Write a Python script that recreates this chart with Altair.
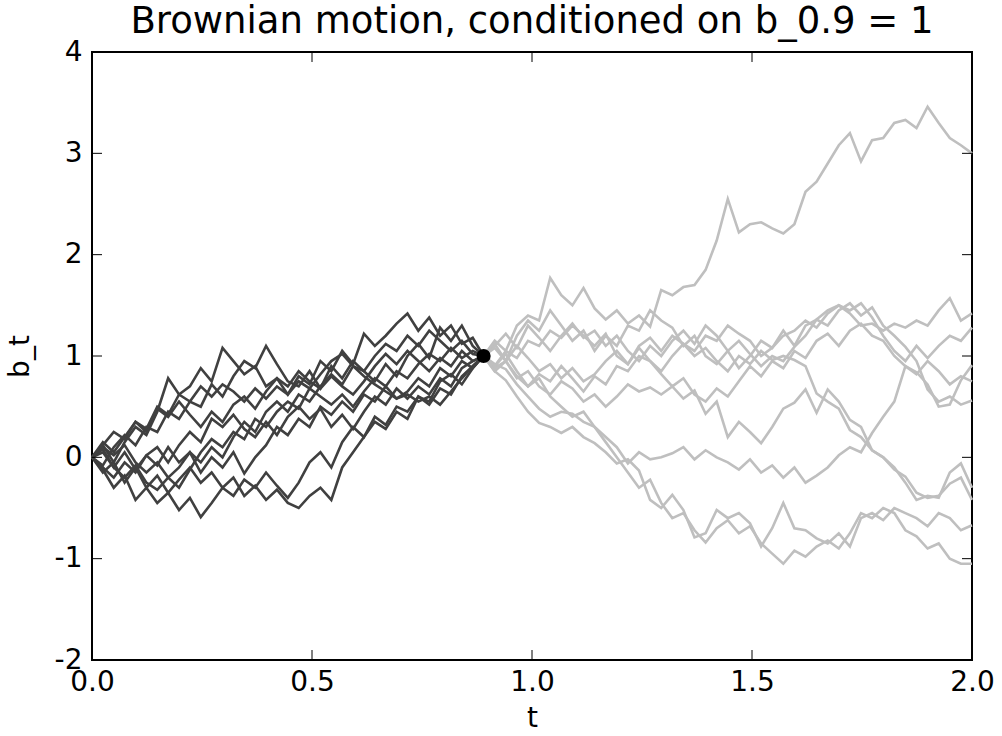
import altair as alt
import numpy as np
import pandas as pd

T_COND = 0.89
B_COND = 1.0

# Dark paths: t from 0 to 0.89
dark_paths = [
    [0, 0.12, -0.05, 0.15, 0.3, 0.22, 0.45, 0.78, 0.62, 0.7, 0.88, 0.75, 1.08, 0.95, 0.82, 0.9, 0.7, 0.78, 0.62, 0.8, 0.72, 0.95, 0.85, 1.05, 0.92, 1.22, 1.1, 1.2, 1.32, 1.42, 1.25, 1.38, 1.2, 1.3, 1.12, 1.18, 1.0],
    [0, -0.08, 0.1, 0.22, 0.12, 0.3, 0.25, 0.45, 0.38, 0.55, 0.5, 0.72, 0.6, 0.8, 0.95, 0.88, 1.1, 0.92, 0.75, 0.7, 0.85, 0.68, 0.9, 0.78, 0.95, 0.85, 0.75, 0.92, 0.8, 1.0, 1.12, 0.98, 1.28, 1.15, 1.3, 1.1, 1.0],
    [0, -0.15, -0.05, -0.25, -0.1, -0.3, -0.18, -0.35, -0.22, -0.1, -0.25, -0.15, -0.3, -0.2, -0.38, -0.28, -0.42, -0.32, -0.45, -0.5, -0.38, -0.3, -0.42, -0.1, 0.05, 0.2, 0.35, 0.28, 0.45, 0.38, 0.6, 0.52, 0.68, 0.62, 0.8, 0.9, 1.0],
    [0, -0.12, -0.3, -0.18, -0.42, -0.3, -0.45, -0.35, -0.52, -0.4, -0.59, -0.45, -0.3, -0.38, -0.22, -0.3, -0.15, -0.28, -0.4, -0.25, -0.05, 0.05, -0.1, 0.15, 0.3, 0.2, 0.4, 0.32, 0.5, 0.45, 0.6, 0.55, 0.75, 0.82, 0.72, 0.88, 1.0],
    [0, 0.08, -0.1, 0.05, -0.12, 0.02, -0.08, 0.1, -0.05, 0.05, -0.15, 0.0, -0.1, 0.05, -0.16, 0.0, 0.12, 0.3, 0.22, 0.38, 0.3, 0.5, 0.42, 0.55, 0.45, 0.62, 0.55, 0.7, 0.58, 0.65, 0.78, 0.7, 0.88, 0.8, 0.95, 0.88, 1.0],
    [0, 0.15, 0.05, 0.2, 0.35, 0.25, 0.48, 0.4, 0.55, 0.42, 0.3, 0.45, 0.35, 0.52, 0.6, 0.48, 0.65, 0.78, 0.7, 0.85, 0.75, 0.68, 0.8, 0.7, 0.62, 0.75, 0.9, 1.02, 0.92, 1.05, 0.95, 0.85, 0.98, 0.9, 1.05, 0.95, 1.0],
    [0, -0.1, -0.2, -0.05, -0.15, 0.02, 0.1, -0.05, 0.12, 0.25, 0.15, 0.38, 0.3, 0.42, 0.28, 0.2, 0.35, 0.22, 0.4, 0.5, 0.38, 0.48, 0.3, 0.42, 0.28, 0.45, 0.6, 0.52, 0.68, 0.58, 0.7, 0.62, 0.78, 0.7, 0.88, 0.95, 1.0],
    [0, 0.1, 0.02, 0.12, -0.05, -0.15, -0.05, -0.2, -0.1, 0.05, -0.05, 0.1, 0.0, 0.2, 0.35, 0.25, 0.45, 0.55, 0.45, 0.62, 0.55, 0.7, 0.82, 0.72, 0.9, 0.85, 1.0, 1.12, 1.05, 1.2, 1.1, 1.25, 1.15, 1.05, 1.15, 1.02, 1.0],
    [0, 0.05, -0.1, -0.2, -0.08, -0.25, -0.32, -0.2, -0.3, -0.12, 0.05, 0.18, 0.1, 0.25, 0.18, 0.38, 0.3, 0.45, 0.55, 0.48, 0.68, 0.6, 0.52, 0.62, 0.5, 0.65, 0.78, 0.7, 0.85, 0.78, 0.92, 1.02, 0.95, 1.08, 0.98, 1.05, 1.0],
    [0, 0.12, 0.25, 0.18, 0.35, 0.28, 0.5, 0.42, 0.62, 0.55, 0.7, 0.6, 0.72, 0.65, 0.55, 0.68, 0.58, 0.7, 0.62, 0.75, 0.68, 0.82, 0.95, 1.02, 0.9, 0.8, 0.72, 0.65, 0.58, 0.62, 0.55, 0.6, 0.52, 0.65, 0.78, 0.9, 1.0],
]

# Light paths: t from 0.89 to 2.0
light_paths = [
    [1.0, 1.15, 1.05, 1.3, 1.4, 1.35, 1.77, 1.6, 1.5, 1.67, 1.47, 1.36, 1.45, 1.32, 1.4, 1.29, 1.65, 1.6, 1.68, 1.7, 1.85, 2.14, 2.55, 2.22, 2.3, 2.32, 2.26, 2.21, 2.3, 2.62, 2.72, 2.9, 3.08, 3.2, 2.92, 3.13, 3.15, 3.3, 3.33, 3.25, 3.46, 3.3, 3.15, 3.08, 3.0],
    [1.0, 1.12, 0.95, 1.2, 1.35, 1.25, 1.45, 1.3, 1.15, 1.25, 1.05, 1.2, 1.1, 1.3, 1.25, 1.45, 1.35, 1.28, 1.1, 1.2, 1.0, 0.92, 1.05, 0.88, 1.0, 1.15, 1.08, 1.25, 1.1, 1.3, 1.36, 1.45, 1.5, 1.42, 1.3, 1.32, 1.25, 1.32, 1.28, 1.35, 1.3, 1.45, 1.57, 1.35, 1.42],
    [1.0, 0.9, 1.05, 0.98, 1.15, 1.1, 1.25, 1.18, 1.3, 1.2, 1.1, 1.22, 1.0, 0.92, 1.08, 0.95, 0.85, 1.0, 1.12, 1.05, 1.2, 1.15, 1.3, 1.22, 1.15, 1.0, 1.08, 1.2, 1.25, 1.35, 1.28, 1.42, 1.5, 1.45, 1.52, 1.38, 1.2, 1.05, 0.95, 1.1, 0.98, 1.1, 1.2, 1.15, 1.28],
    [1.0, 0.92, 0.87, 0.72, 0.6, 0.48, 0.4, 0.45, 0.43, 0.35, 0.3, 0.2, 0.1, -0.06, 0.05, -0.02, 0.0, 0.04, 0.1, -0.02, 0.07, 0.0, -0.05, -0.12, -0.02, -0.15, -0.08, -0.2, -0.1, -0.25, -0.18, -0.1, 0.02, 0.1, 0.05, 0.24, 0.4, 0.55, 0.9, 0.84, 0.72, 0.5, 0.52, 0.76, 0.91],
    [1.0, 1.1, 1.22, 1.08, 1.3, 1.18, 1.05, 1.2, 1.32, 1.18, 1.25, 1.1, 1.2, 1.05, 0.95, 1.1, 1.0, 1.15, 1.25, 1.12, 1.3, 1.2, 1.05, 1.15, 1.02, 0.9, 1.0, 0.95, 1.09, 1.2, 1.36, 1.3, 1.45, 1.52, 1.4, 1.48, 1.3, 1.2, 1.09, 0.95, 0.67, 0.55, 0.6, 0.52, 0.56],
    [1.0, 0.85, 0.95, 0.8, 0.7, 0.82, 0.75, 0.9, 0.78, 0.65, 0.8, 0.72, 0.9, 0.85, 1.0, 0.95, 0.82, 0.7, 0.78, 0.62, 0.55, 0.68, 0.6, 0.75, 0.9, 0.8, 0.95, 0.88, 1.05, 0.98, 1.15, 1.22, 1.1, 1.25, 1.32, 1.2, 1.15, 1.0, 0.9, 0.82, 0.95, 0.85, 0.72, 0.8, 0.75],
    [1.0, 0.88, 0.95, 0.78, 0.85, 0.7, 0.62, 0.75, 0.68, 0.55, 0.62, 0.5, 0.6, 0.72, 0.65, 0.69, 0.62, 0.7, 0.58, 0.66, 0.43, 0.55, 0.2, 0.35, 0.25, 0.14, 0.3, 0.48, 0.54, 0.67, 0.44, 0.67, 0.55, 0.37, 0.3, 0.07, 0.0, -0.1, -0.25, -0.42, -0.38, -0.4, -0.15, -0.06, -0.3],
    [1.0, 1.08, 0.95, 1.1, 0.98, 0.85, 0.92, 0.78, 0.88, 0.75, 0.82, 0.95, 1.05, 0.92, 1.1, 1.18, 1.05, 1.2, 1.12, 1.0, 1.08, 0.95, 0.85, 1.0, 0.92, 1.05, 0.96, 1.0, 0.96, 0.9, 0.63, 0.55, 0.48, 0.27, 0.2, 0.07, 0.0, -0.12, -0.19, -0.35, -0.4, -0.38, -0.26, -0.2, -0.42],
    [1.0, 0.85, 0.76, 0.6, 0.45, 0.34, 0.3, 0.24, 0.3, 0.2, 0.14, 0.05, -0.06, -0.02, -0.13, -0.42, -0.5, -0.37, -0.52, -0.79, -0.75, -0.52, -0.6, -0.55, -0.65, -0.88, -0.7, -0.45, -0.7, -0.72, -0.8, -0.85, -0.75, -0.88, -0.6, -0.55, -0.62, -0.5, -0.55, -0.6, -0.68, -0.55, -0.6, -0.72, -0.67],
    [1.0, 0.9, 1.02, 0.85, 0.7, 0.78, 0.6, 0.5, 0.4, 0.45, 0.3, 0.15, 0.0, -0.15, -0.3, -0.22, -0.45, -0.6, -0.55, -0.72, -0.84, -0.7, -0.62, -0.75, -0.68, -0.85, -0.95, -1.05, -0.92, -0.98, -0.88, -0.82, -0.9, -0.75, -0.55, -0.6, -0.5, -0.55, -0.72, -0.78, -0.9, -0.85, -1.0, -1.05, -1.05],
]

x_ticks = [0.0, 0.5, 1.0, 1.5, 2.0]
y_ticks = [-2, -1, 0, 1, 2, 3, 4]

rows = []
for i, p in enumerate(dark_paths):
    ts = np.linspace(0.0, T_COND, len(p))
    for t, b in zip(ts, p):
        rows.append({"t": float(t), "b": b, "path": f"d{i}", "grp": "dark"})
for i, p in enumerate(light_paths):
    ts = np.linspace(T_COND, 2.0, len(p))
    for t, b in zip(ts, p):
        rows.append({"t": float(t), "b": b, "path": f"l{i}", "grp": "light"})
df = pd.DataFrame(rows)

W, H = 880, 608
FONT = "DejaVu Sans"

xs = alt.Scale(domain=[0, 2], nice=False, zero=False)
ys = alt.Scale(domain=[-2, 4], nice=False, zero=False)

xax = alt.Axis(values=x_ticks, format=".1f", ticks=False, domain=False, grid=False,
               labelFlush=False, labelOverlap=False, labelFontSize=28, labelFont=FONT,
               labelColor="black", labelPadding=8, title="t", titleFontSize=28,
               titleFont=FONT, titleFontWeight="normal", titleColor="black", titlePadding=8)
yax = alt.Axis(values=y_ticks, labelExpr="'' + datum.value", ticks=False, domain=False, grid=False,
               labelOverlap=False, labelFontSize=28, labelFont=FONT, labelColor="black",
               labelPadding=10, title="b_t", titleFontSize=28, titleFont=FONT,
               titleFontWeight="normal", titleColor="black", titlePadding=20)

dark = alt.Chart(df[df.grp == "dark"]).mark_line(color="#404040", strokeWidth=2.6).encode(
    x=alt.X("t:Q", scale=xs, axis=xax),
    y=alt.Y("b:Q", scale=ys, axis=yax),
    detail="path:N",
)
light = alt.Chart(df[df.grp == "light"]).mark_line(color="#bfbfbf", strokeWidth=2.6).encode(
    x=alt.X("t:Q", scale=xs),
    y=alt.Y("b:Q", scale=ys),
    detail="path:N",
)
dot = alt.Chart(pd.DataFrame({"t": [T_COND], "b": [B_COND]})).mark_point(
    filled=True, color="black", size=200, opacity=1).encode(
    x=alt.X("t:Q", scale=xs), y=alt.Y("b:Q", scale=ys))

TL = 10
inner_x = [0.5, 1.0, 1.5]
inner_y = [-1, 0, 1, 2, 3]
tx = pd.DataFrame({"t": inner_x})
ty = pd.DataFrame({"b": inner_y})
tick_bottom = alt.Chart(tx).mark_rule(color="black", strokeWidth=1).encode(
    x=alt.X("t:Q", scale=xs), y=alt.value(H), y2=alt.value(H - TL))
tick_top = alt.Chart(tx).mark_rule(color="black", strokeWidth=1).encode(
    x=alt.X("t:Q", scale=xs), y=alt.value(0), y2=alt.value(TL))
tick_left = alt.Chart(ty).mark_rule(color="black", strokeWidth=1).encode(
    y=alt.Y("b:Q", scale=ys), x=alt.value(0), x2=alt.value(TL))
tick_right = alt.Chart(ty).mark_rule(color="black", strokeWidth=1).encode(
    y=alt.Y("b:Q", scale=ys), x=alt.value(W), x2=alt.value(W - TL))

chart = alt.layer(dark, light, dot, tick_bottom, tick_top, tick_left, tick_right).properties(
    width=W, height=H,
    title=alt.TitleParams("Brownian motion, conditioned on b_0.9 = 1", fontSize=37,
                          font=FONT, fontWeight="normal", color="black", offset=12, dy=15),
    autosize=alt.AutoSizeParams(type="none"),
    padding={"left": 92, "top": 52, "right": 30, "bottom": 76},
).configure_view(stroke="black", strokeWidth=2)

chart.save("out.html", embed_options={"renderer": "svg", "actions": False})
